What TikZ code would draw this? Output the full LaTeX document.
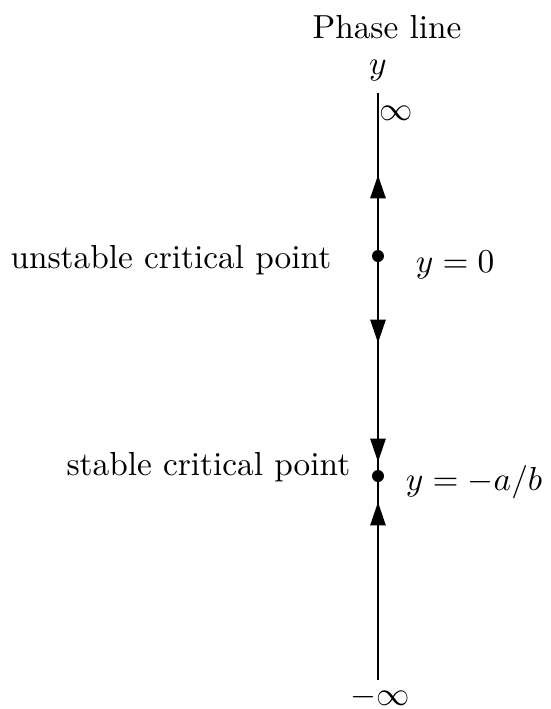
\documentclass[tikz,border=0pt]{standalone}
\usepackage{amsmath}
\usepackage{tikz}
\usetikzlibrary{
  arrows.meta,
  positioning
}
\tikzset{
  critpt/.style={
    circle,
    fill=black,
    inner sep=0pt,
    minimum size=3.6pt
  },
  flow/.style={
    -{Triangle[length=7pt,width=4.5pt]},
    thick
  }
}
\begin{document}
\begin{tikzpicture}[x=0.3pt,y=-0.3pt]
\useasboundingbox (0,0) rectangle (550,709);
% the y axis
\coordinate (top) at (378,93);
\coordinate (bot) at (378,680);
\draw (top) -- (bot);
\node[anchor=base] (title) at (387,38) {Phase line};
\node[above] (ylab) at (top) {$y$};
\node[anchor=base west,inner sep=0pt] (pinf) at (379,120) {$\infty$};
\node[anchor=base] (minf) at (380,705) {$-\infty$};

% critical points
\node[critpt] (unst) at (378,256) {};
\node[critpt] (stab) at (378,476) {};
\node[anchor=base east] (unstlab) at (343,268) {unstable critical point};
\node[anchor=base west] (unsteq) at (404,272) {$y=0$};
\node[anchor=base east] (stablab) at (362,475) {stable critical point};
\node[anchor=base west] (stabeq) at (394,490) {$y=-a/b$};

% direction of flow
\coordinate (up1) at (378,175);
\coordinate (dn1) at (378,343);
\coordinate (dn2s) at (378,393);
\coordinate (dn2) at (378,462);
\coordinate (up2s) at (378,612);
\coordinate (up2) at (378,502);
\draw[flow] (unst) -- (up1);
\draw[flow] (unst) -- (dn1);
\draw[flow] (dn2s) -- (dn2);
\draw[flow] (up2s) -- (up2);
\end{tikzpicture}
\end{document}
